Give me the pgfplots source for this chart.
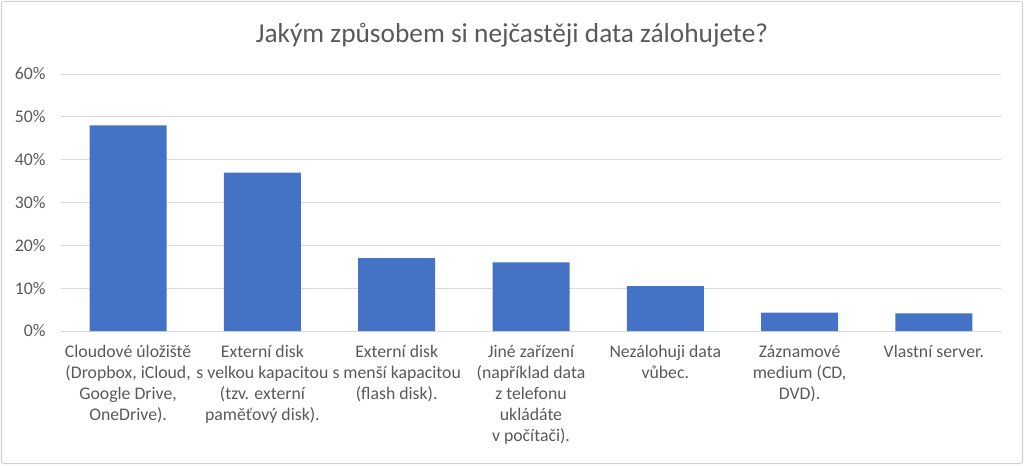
\documentclass[border=0pt]{standalone}
\usepackage{fontspec}
\setmainfont{Carlito}
\usepackage{pgfplots}
\pgfplotsset{compat=1.18}
\definecolor{barblue}{HTML}{4472C4}
\definecolor{gridgray}{HTML}{D9D9D9}
\definecolor{txtgray}{HTML}{595959}
\definecolor{framegray}{HTML}{D0D0D0}
\begin{document}
\begin{tikzpicture}
\useasboundingbox (0pt,0pt) rectangle (768pt,348.75pt);
\draw[framegray, line width=0.75pt, rounded corners=2pt] (1.1pt,1.1pt) rectangle (766.9pt,347.65pt);
\node[font=\fontsize{20.5}{24}\selectfont, text=txtgray] at (384pt,322.5pt) {Jakým způsobem si nejčastěji data zálohujete?};
\begin{axis}[
  at={(45.75pt,100.5pt)}, anchor=south west,
  width=705pt, height=192.75pt, scale only axis,
  ybar, bar width=57.75pt,
  xmin=-0.5, xmax=6.5, ymin=0, ymax=60,
  ytick={0,10,...,60},
  yticklabel={\pgfmathprintnumber{\tick}\%},
  /pgf/number format/assume math mode=true,
  ymajorgrids, grid style={gridgray, line width=0.75pt},
  axis x line*=bottom, axis y line*=left,
  x axis line style={gridgray, line width=0.75pt},
  y axis line style={draw=none},
  tick style={draw=none},
  xtick={0,...,6},
  xticklabels={
    {Cloudové úložiště\\(Dropbox, iCloud,\\Google Drive,\\OneDrive).},
    {Externí disk\\s velkou kapacitou\\(tzv. externí\\paměťový disk).},
    {Externí disk\\s menší kapacitou\\(flash disk).},
    {Jiné zařízení\\(například data\\z telefonu\\ukládáte\\v počítači).},
    {Nezálohuji data\\vůbec.},
    {Záznamové\\medium (CD,\\DVD).},
    {Vlastní server.}},
  xticklabel style={align=center, font=\fontsize{13.3}{15.75}\selectfont, text=txtgray, anchor=north, yshift=-3pt},
  yticklabel style={font=\fontsize{13.3}{15}\selectfont, text=txtgray, xshift=-8pt},
]
\addplot[fill=barblue, draw=none] coordinates {(0,48) (1,37) (2,17) (3,16) (4,10.5) (5,4.3) (6,4.1)};
\end{axis}
\end{tikzpicture}
\end{document}
